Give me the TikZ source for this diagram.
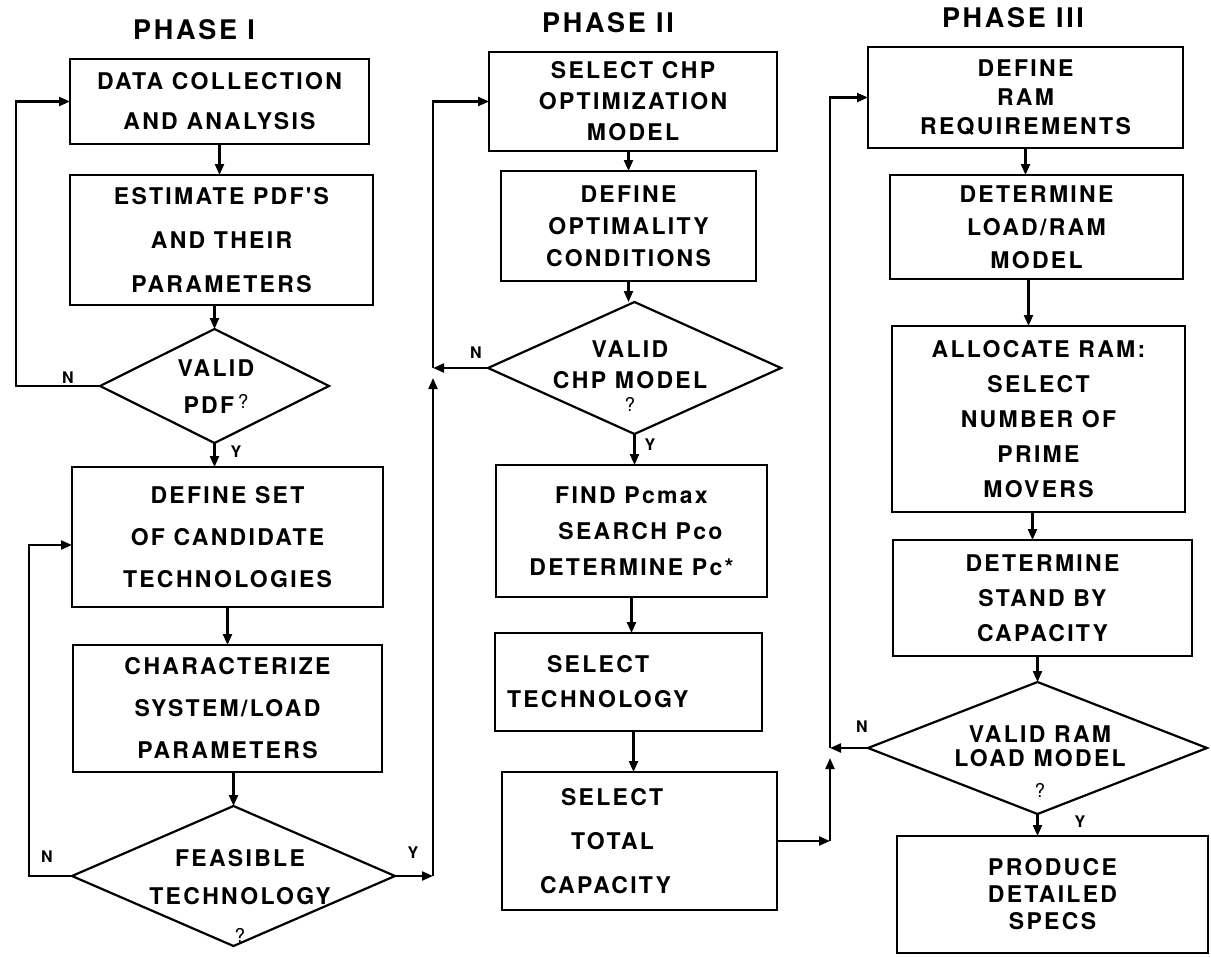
\documentclass[tikz,border=0pt]{standalone}
\usepackage{fontspec}
\newfontfamily\flowfont{TeX Gyre Heros}[LetterSpace=10]
\usetikzlibrary{arrows.meta,shapes.geometric}

\tikzset{
  flowbox/.style={draw, line width=2.2pt, rectangle, inner sep=0pt, outer sep=0pt, align=center, font=\flowfont\bfseries\fontsize{23}{#1}\selectfont},
  decide/.style={draw, line width=2.2pt, diamond, inner sep=0pt, outer sep=0pt},
  flowtext/.style={inner sep=0pt, align=center, font=\flowfont\bfseries\fontsize{23}{#1}\selectfont},
  phase/.style={inner sep=0pt, font=\flowfont\bfseries\fontsize{27}{30}\selectfont},
  yn/.style={inner sep=0pt, font=\flowfont\bfseries\fontsize{16}{18}\selectfont},
  wire/.style={line width=2.2pt},
  flow/.style={wire, -{Triangle[length=11pt,width=9pt]}},
}
\newcommand{\qmark}{{\mdseries\fontsize{19}{19}\selectfont ?}}

\begin{document}
\begin{tikzpicture}[x=1pt,y=-1pt]
\useasboundingbox (0,0) rectangle (1211,958);

% titles
\path (194,30) node[phase] (phase-one) {PHASE I};
\path (608,23) node[phase] (phase-two) {PHASE II};
\path (1013,18) node[phase] (phase-three) {PHASE III};

% phase I
\path (219.5,101.5) node[flowbox=40, minimum width=299pt, minimum height=85pt] (data-coll) {DATA COLLECTION\\AND ANALYSIS};
\path (221.5,240) node[flowbox=44, minimum width=303pt, minimum height=130pt] (est-pdf) {ESTIMATE PDF'S\\AND THEIR\\PARAMETERS};
\path (214.5,386) node[decide, minimum width=229pt, minimum height=114pt] (valid-pdf) {};
\path (216,387) node[flowtext=37] (valid-pdf-txt) {VALID\\PDF\,\raisebox{5pt}{\qmark}};
\path (227.5,537) node[flowbox=42, minimum width=311pt, minimum height=140pt] (cand-tech) {DEFINE SET\\OF CANDIDATE\\TECHNOLOGIES};
\path (227.5,708.5) node[flowbox=42, minimum width=309pt, minimum height=127pt] (char-sys) {CHARACTERIZE\\SYSTEM/LOAD\\PARAMETERS};
\path (233.5,876) node[decide, minimum width=323pt, minimum height=140pt] (feas-tech) {};
\path (240,896) node[flowtext=38] (feas-tech-txt) {FEASIBLE\\TECHNOLOGY\\\qmark};

% phase II
\path (633,101.5) node[flowbox=31, minimum width=288pt, minimum height=99pt] (sel-chp) {SELECT CHP\\OPTIMIZATION\\MODEL};
\path (628.5,226) node[flowbox=32, minimum width=255pt, minimum height=110pt] (opt-cond) {DEFINE\\OPTIMALITY\\CONDITIONS};
\path (634.5,368) node[decide, minimum width=293pt, minimum height=132pt] (valid-chp) {};
\path (630,376) node[flowtext=31] (valid-chp-txt) {VALID\\CHP MODEL\\[-8pt]\qmark};
\path (631.5,531) node[flowbox=36, minimum width=271pt, minimum height=132pt] (find-pc) {FIND Pcmax\\\hspace*{18pt}SEARCH Pco\\DETERMINE Pc*};
\path (628.5,682) node[flowbox=35, minimum width=267pt, minimum height=98pt, text width=267pt, align=left] (sel-tech) {\hspace*{52pt}SELECT\\\hspace*{12pt}TECHNOLOGY};
\path (639.5,841) node[flowbox=44, minimum width=275pt, minimum height=138pt, text width=275pt, align=left] (sel-cap) {\hspace*{59pt}SELECT\\\hspace*{69pt}TOTAL\\\hspace*{38pt}CAPACITY};

% phase III
\path (1025.5,97.5) node[flowbox=29, minimum width=315pt, minimum height=101pt] (ram-req) {DEFINE\\RAM\\REQUIREMENTS};
\path (1036.5,227) node[flowbox=33, minimum width=293pt, minimum height=104pt] (load-ram) {DETERMINE\\LOAD/RAM\\MODEL};
\path (1038.5,419) node[flowbox=35, minimum width=293pt, minimum height=186pt] (alloc-ram) {ALLOCATE RAM:\\SELECT\\NUMBER OF\\PRIME\\MOVERS};
\path (1042.5,598) node[flowbox=35, minimum width=299pt, minimum height=116pt] (stand-by) {DETERMINE\\STAND BY\\CAPACITY};
\path (1037.5,748) node[decide, minimum width=339pt, minimum height=132pt] (valid-ram) {};
\path (1040,762) node[flowtext=24] (valid-ram-txt) {VALID RAM\\LOAD MODEL\\[7pt]\qmark};
\path (1052.5,894.5) node[flowbox=27, minimum width=311pt, minimum height=117pt] (specs) {PRODUCE\\DETAILED\\SPECS};

% yes / no labels
\path (68,378) node[yn] (n-pdf) {N};
\path (236,452) node[yn] (y-pdf) {Y};
\path (47,857) node[yn] (n-feas) {N};
\path (413,853) node[yn] (y-feas) {Y};
\path (476,353) node[yn] (n-chp) {N};
\path (650,445) node[yn] (y-chp) {Y};
\path (862,727) node[yn] (n-ram) {N};
\path (1080,822) node[yn] (y-ram) {Y};

% phase I flow
\draw[flow] (data-coll.south) -- (data-coll.south |- est-pdf.north);
\draw[flow] (valid-pdf.north |- est-pdf.south) -- (valid-pdf.north);
\draw[flow] (valid-pdf.south) -- (valid-pdf.south |- cand-tech.north);
\draw[flow] (valid-pdf.west) -| ([xshift=-54pt]data-coll.west) -- (data-coll.west);
\draw[flow] (cand-tech.south) -- (cand-tech.south |- char-sys.north);
\draw[flow] (feas-tech.north |- char-sys.south) -- (feas-tech.north);
\draw[flow] (feas-tech.west) -| ([xshift=-43pt,yshift=-8pt]cand-tech.west) -- ([yshift=-8pt]cand-tech.west);

% bus into phase II
\coordinate (bus-one) at ([xshift=38pt]feas-tech.east);
\coordinate (bus-one-join) at (bus-one |- valid-chp.west);
\draw[flow] (feas-tech.east) -- (bus-one);
\draw[flow] (bus-one) -- ([yshift=-10pt]bus-one-join);
\draw[flow] (bus-one-join) -- (bus-one |- sel-chp.west) -- (sel-chp.west);
\draw[flow] (valid-chp.west) -- (bus-one-join);

% phase II flow
\draw[flow] (opt-cond.north |- sel-chp.south) -- (opt-cond.north);
\draw[flow] (opt-cond.south) -- (opt-cond.south |- valid-chp.north);
\draw[flow] (valid-chp.south) -- (valid-chp.south |- find-pc.north);
\draw[flow] (find-pc.south) -- (find-pc.south |- sel-tech.north);
\draw[flow] ([xshift=5pt]sel-tech.south) -- ([xshift=5pt]sel-tech.south |- sel-cap.north);

% bus into phase III
\coordinate (bus-two) at ([xshift=53pt]sel-cap.east);
\coordinate (bus-two-join) at (bus-two |- valid-ram.west);
\draw[flow] (sel-cap.east) -- (bus-two);
\draw[flow] (bus-two) -- ([yshift=-10pt]bus-two-join);
\draw[flow] (bus-two-join) -- (bus-two |- ram-req.west) -- (ram-req.west);
\draw[flow] (valid-ram.west) -- (bus-two-join);

% phase III flow
\draw[flow] (ram-req.south) -- (ram-req.south |- load-ram.north);
\draw[flow] ([xshift=-8pt]load-ram.south) -- ([xshift=-8pt]load-ram.south |- alloc-ram.north);
\draw[flow] ([xshift=-6pt]alloc-ram.south) -- ([xshift=-6pt]alloc-ram.south |- stand-by.north);
\draw[flow] (valid-ram.north |- stand-by.south) -- (valid-ram.north);
\draw[flow] (valid-ram.south) -- (valid-ram.south |- specs.north);

\end{tikzpicture}
\end{document}
